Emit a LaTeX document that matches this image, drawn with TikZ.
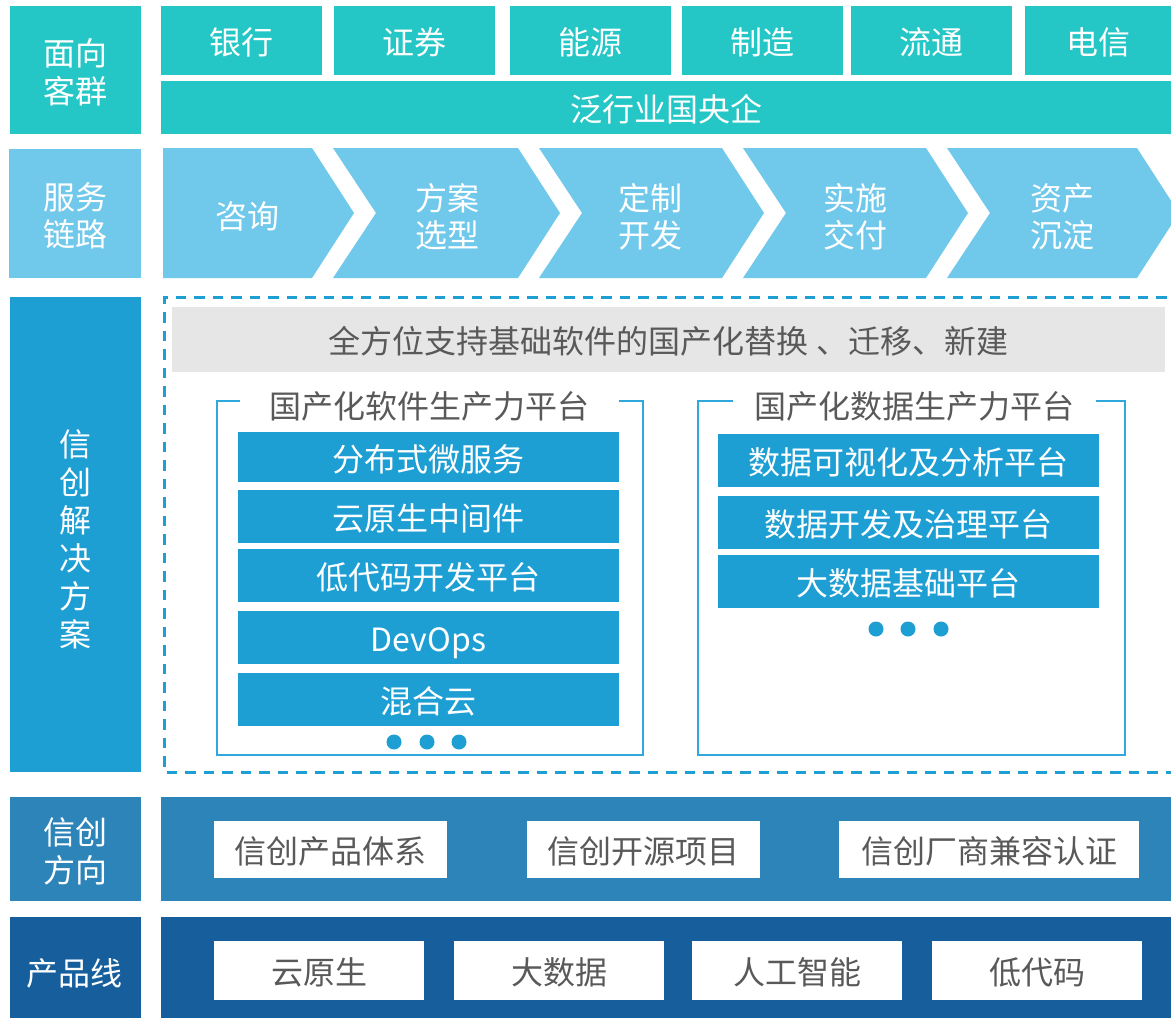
\documentclass[tikz,border=0pt]{standalone}
\usepackage{fontspec}
\setmainfont{Noto Sans CJK SC}
\definecolor{cTeal}{HTML}{25C6C6}
\definecolor{cSky}{HTML}{70C8EB}
\definecolor{cBlue}{HTML}{1E9FD4}
\definecolor{cMid}{HTML}{2C84B9}
\definecolor{cDark}{HTML}{175F9C}
\definecolor{cGray}{HTML}{E6E6E6}
\definecolor{cText}{HTML}{595959}
\definecolor{cFrame}{HTML}{30A8DC}
\tikzset{
  lbl/.style={font=\fontsize{32}{38}\selectfont, text height=30pt, text depth=2pt, inner sep=0pt, outer sep=0pt},
  wtxt/.style={lbl, text=white},
  dtxt/.style={lbl, text=cText},
  blk/.style={inner sep=0pt, outer sep=0pt, draw=none},
  frameline/.style={draw=cFrame, line width=2.5pt},
  dashline/.style={draw=cBlue, line width=3pt, dash pattern=on 10.5pt off 8pt},
  dotnode/.style={circle, fill=cBlue, minimum size=15pt, inner sep=0pt},
  chev/.style={fill=cSky, draw=none},
}
\newcommand\bx[7]{\node[blk,#6,minimum width={(#4-#2)*1pt},minimum height={(#5-#3)*1pt}] (#1) at ({(#2+#4)/2},{(#3+#5)/2}) {#7};}
\begin{document}
\begin{tikzpicture}[x=1pt,y=-1pt]
\useasboundingbox (0,0) rectangle (1171,1018);
\clip (0,0) rectangle (1171,1018);
\fill[white] (0,0) rectangle (1171,1018);

% ---- row 1: customers
\bx{L1}{10}{6}{141}{134}{fill=cTeal}{}
\node[wtxt] (L1a) at (75.5,51) {面向};
\node[wtxt] (L1b) at (75.5,89) {客群};
\bx{c1}{161}{6}{322}{75}{fill=cTeal,wtxt}{银行}
\bx{c2}{334}{6}{495}{75}{fill=cTeal,wtxt}{证券}
\bx{c3}{510}{6}{671}{75}{fill=cTeal,wtxt}{能源}
\bx{c4}{682}{6}{843}{75}{fill=cTeal,wtxt}{制造}
\bx{c5}{851}{6}{1012}{75}{fill=cTeal,wtxt}{流通}
\bx{c6}{1025}{6}{1171}{75}{fill=cTeal,wtxt}{电信}
\bx{c7}{161}{81}{1171}{134}{fill=cTeal,wtxt}{泛行业国央企}

% ---- row 2: service chain
\bx{L2}{9}{149}{141}{278}{fill=cSky}{}
\node[wtxt] (L2a) at (75,195) {服务};
\node[wtxt] (L2b) at (75,232) {链路};
\fill[chev] (163,148) -- (312,148) -- (354,213) -- (312,278) -- (163,278) -- cycle;
\fill[chev] (333,148) -- (518,148) -- (560,213) -- (518,278) -- (333,278) -- (376,213) -- cycle;
\fill[chev] (539,148) -- (722,148) -- (764,213) -- (722,278) -- (539,278) -- (582,213) -- cycle;
\fill[chev] (743,148) -- (926,148) -- (968,213) -- (926,278) -- (743,278) -- (786,213) -- cycle;
\fill[chev] (947,148) -- (1137,148) -- (1179,213) -- (1137,278) -- (947,278) -- (990,213) -- cycle;
\node[wtxt] (s1) at (247,214) {咨询};
\node[wtxt] (s2a) at (447,196) {方案};
\node[wtxt] (s2b) at (447,233) {选型};
\node[wtxt] (s3a) at (650,196) {定制};
\node[wtxt] (s3b) at (650,233) {开发};
\node[wtxt] (s4a) at (855,196) {实施};
\node[wtxt] (s4b) at (855,233) {交付};
\node[wtxt] (s5a) at (1062,196) {资产};
\node[wtxt] (s5b) at (1062,233) {沉淀};

% ---- row 3: solutions
\bx{L3}{10}{297}{141}{772}{fill=cBlue}{}
\node[wtxt] (v1) at (75,442) {信};
\node[wtxt] (v2) at (75,480) {创};
\node[wtxt] (v3) at (75,518) {解};
\node[wtxt] (v4) at (75,556) {决};
\node[wtxt] (v5) at (75,594) {方};
\node[wtxt] (v6) at (75,632) {案};
\draw[dashline] (1185,297) -- (164,297) -- (164,772) -- (1185,772);
\bx{gb}{172}{307}{1165}{372}{fill=cGray,dtxt}{全方位支持基础软件的国产化替换 、迁移、新建}

% software frame
\draw[frameline] (240,401) -- (217,401) -- (217,755) -- (643,755) -- (643,401) -- (619,401);
\node[dtxt] (swt) at (429,404) {国产化软件生产力平台};
\bx{sw1}{238}{432}{619}{482}{fill=cBlue,wtxt}{分布式微服务}
\bx{sw2}{238}{490}{619}{543}{fill=cBlue,wtxt}{云原生中间件}
\bx{sw3}{238}{549}{619}{602}{fill=cBlue,wtxt}{低代码开发平台}
\bx{sw4}{238}{611}{619}{664}{fill=cBlue,wtxt}{DevOps}
\bx{sw5}{238}{673}{619}{726}{fill=cBlue,wtxt}{混合云}
\node[dotnode] (sd1) at (394,742) {};
\node[dotnode] (sd2) at (427,742) {};
\node[dotnode] (sd3) at (459,742) {};

% data frame
\draw[frameline] (733,401) -- (698,401) -- (698,755) -- (1125,755) -- (1125,401) -- (1096,401);
\node[dtxt] (dtt) at (914,404) {国产化数据生产力平台};
\bx{dt1}{718}{434}{1099}{487}{fill=cBlue,wtxt}{数据可视化及分析平台}
\bx{dt2}{718}{496}{1099}{549}{fill=cBlue,wtxt}{数据开发及治理平台}
\bx{dt3}{718}{555}{1099}{608}{fill=cBlue,wtxt}{大数据基础平台}
\node[dotnode] (dd1) at (876,629) {};
\node[dotnode] (dd2) at (908,629) {};
\node[dotnode] (dd3) at (941,629) {};

% ---- row 4: directions
\bx{L4}{10}{797}{141}{901}{fill=cMid}{}
\node[wtxt] (L4a) at (75,830) {信创};
\node[wtxt] (L4b) at (75,868) {方向};
\bx{R4}{161}{797}{1171}{901}{fill=cMid}{}
\bx{d1}{214}{821}{447}{878}{fill=white,dtxt}{信创产品体系}
\bx{d2}{527}{821}{760}{878}{fill=white,dtxt}{信创开源项目}
\bx{d3}{839}{821}{1139}{878}{fill=white,dtxt}{信创厂商兼容认证}

% ---- row 5: product lines
\bx{L5}{10}{917}{141}{1018}{fill=cDark}{}
\node[wtxt] (L5a) at (75,971) {产品线};
\bx{R5}{161}{917}{1171}{1018}{fill=cDark}{}
\bx{p1}{214}{941}{424}{1000}{fill=white,dtxt}{云原生}
\bx{p2}{454}{941}{664}{1000}{fill=white,dtxt}{大数据}
\bx{p3}{692}{941}{902}{1000}{fill=white,dtxt}{人工智能}
\bx{p4}{932}{941}{1142}{1000}{fill=white,dtxt}{低代码}
\end{tikzpicture}
\end{document}
